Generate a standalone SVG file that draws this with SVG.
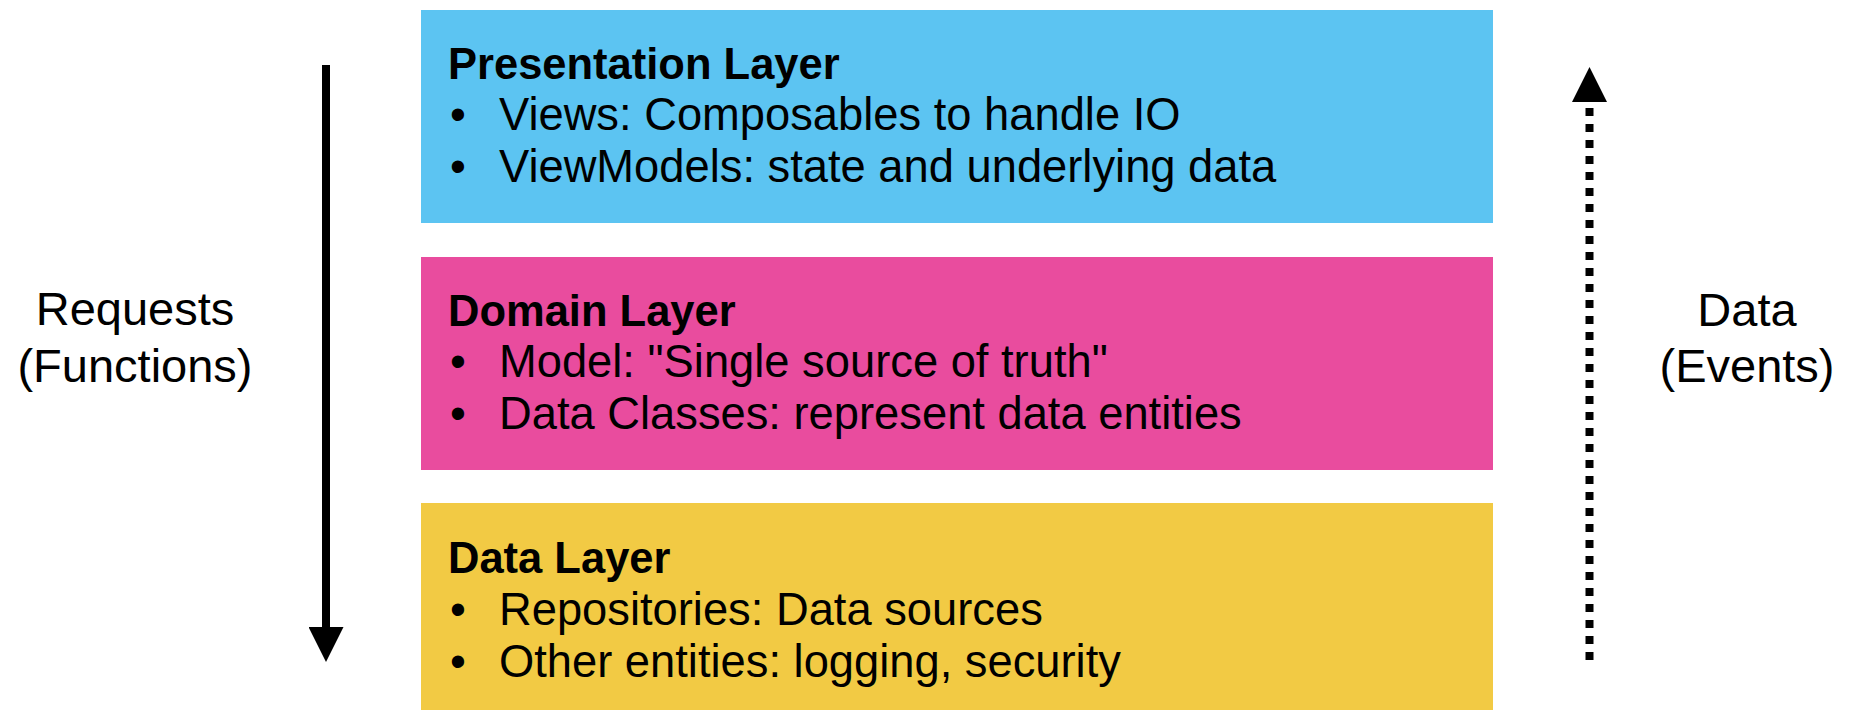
<svg xmlns="http://www.w3.org/2000/svg" width="1853" height="710" viewBox="0 0 1853 710">
<style>
.title{font-family:"Liberation Sans",Arial,sans-serif;font-weight:bold;font-size:43.5px;fill:#000}
.item{font-family:"Liberation Sans",Arial,sans-serif;font-size:45.3px;fill:#000}
.side{font-family:"Liberation Sans",Arial,sans-serif;font-size:47px;fill:#000;text-anchor:middle}
</style>
<defs>
<marker id="head" markerWidth="35" markerHeight="35" refX="0" refY="17.5" orient="auto" markerUnits="userSpaceOnUse" viewBox="0 0 35 35">
<path d="M0,0 L35,17.5 L0,35 Z" fill="#000"/>
</marker>
</defs>
<rect width="1853" height="710" fill="#fff"/>
<g id="presentation">
<rect x="421" y="10" width="1072" height="213" fill="#5CC4F2"/>
<text class="title" x="448" y="79">Presentation Layer</text>
<text class="item" y="130"><tspan x="450">•</tspan><tspan x="499">Views: Composables to handle IO</tspan></text>
<text class="item" y="182"><tspan x="450">•</tspan><tspan x="499">ViewModels: state and underlying data</tspan></text>
</g>
<g id="domain">
<rect x="421" y="257" width="1072" height="213" fill="#E94C9E"/>
<text class="title" x="448" y="326">Domain Layer</text>
<text class="item" y="377"><tspan x="450">•</tspan><tspan x="499">Model: "Single source of truth"</tspan></text>
<text class="item" y="429"><tspan x="450">•</tspan><tspan x="499">Data Classes: represent data entities</tspan></text>
</g>
<g id="data">
<rect x="421" y="503" width="1072" height="207" fill="#F2CA44"/>
<text class="title" x="448" y="573">Data Layer</text>
<text class="item" y="625"><tspan x="450">•</tspan><tspan x="499">Repositories: Data sources</tspan></text>
<text class="item" y="677"><tspan x="450">•</tspan><tspan x="499">Other entities: logging, security</tspan></text>
</g>
<g id="requests-label">
<text class="side" x="135" y="325">Requests</text>
<text class="side" x="135" y="382">(Functions)</text>
</g>
<g id="events-label">
<text class="side" x="1747" y="326">Data</text>
<text class="side" x="1747" y="382">(Events)</text>
</g>
<g id="connectors">
<line x1="326" y1="65" x2="326" y2="627" stroke="#000" stroke-width="8" marker-end="url(#head)"/>
<line x1="1589.5" y1="660" x2="1589.5" y2="102" stroke="#000" stroke-width="8" stroke-dasharray="8 8" marker-end="url(#head)"/>
</g>
</svg>
